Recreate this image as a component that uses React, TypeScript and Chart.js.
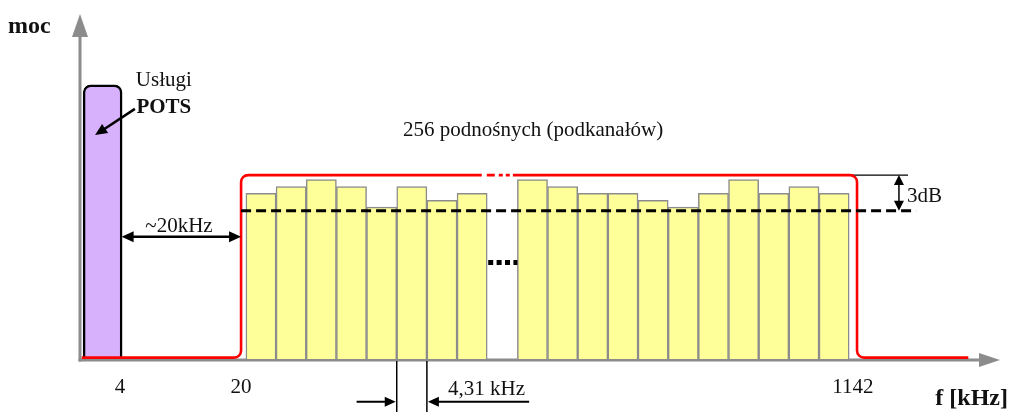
import React, { useEffect, useRef } from "react";
import { Chart, registerables } from "chart.js";

Chart.register(...registerables);

// ---- data (x in subcarrier-slot units, y in relative power units) ----
const subcarrierSlots = [0, 1, 2, 3, 4, 5, 6, 7, 9, 10, 11, 12, 13, 14, 15, 16, 17, 18, 19];
const subcarrierPower = [48, 50, 52, 50, 44, 50, 46, 48, 52, 50, 48, 48, 46, 44, 48, 52, 48, 50, 48];
const potsSlot = [-5.25];
const potsPower = [79.5];
const maskX = [-5.94, -0.66, -0.66, 19.76, 19.76, 23.45];
const maskY = [0.4, 0.4, 53.3, 53.3, 0.4, 0.4];
const maskBreak = [7.32, 8.35];
const refLevelX = [-0.66, 21.72];
const refLevel = 43;
const missingSlot = [7.5, 8.5];
const missingLevel = 28;
const tickSlots = [-4.67, -0.66, 19.62];
const tickLabels = ["4", "20", "1142"];
const guardBandX = [-4.62, -0.66];
const guardBandLevel = 35.4;
const spacingSlots = [4.5, 5.5];
const spacingArrowFrom = [3.17, 8.89];
const threeDbX = 21.15;
const threeDbLineX = [19.6, 21.45];

const SERIF = "'Liberation Serif', 'Times New Roman', serif";

function arrowHead(ctx: CanvasRenderingContext2D, x: number, y: number, angle: number, len: number, half: number) {
  ctx.save();
  ctx.translate(x, y);
  ctx.rotate(angle);
  ctx.beginPath();
  ctx.moveTo(0, 0);
  ctx.lineTo(-len, -half);
  ctx.lineTo(-len, half);
  ctx.closePath();
  ctx.fill();
  ctx.restore();
}

const diagramPlugin = {
  id: "diagram",
  beforeDatasetsDraw(chart: any) {
    const { ctx, chartArea: a } = chart;
    ctx.save();
    ctx.strokeStyle = "#8c8c8c";
    ctx.fillStyle = "#8c8c8c";
    ctx.lineWidth = 3;
    const x0 = a.left;
    const y0 = a.bottom + 1;
    ctx.beginPath();
    ctx.moveTo(x0, y0 + 1.5);
    ctx.lineTo(x0, a.top + 20);
    ctx.stroke();
    ctx.beginPath();
    ctx.moveTo(a.left, a.top);
    ctx.lineTo(a.left - 8, a.top + 23);
    ctx.lineTo(a.left + 8, a.top + 23);
    ctx.closePath();
    ctx.fill();
    ctx.beginPath();
    ctx.moveTo(x0 - 1.5, y0);
    ctx.lineTo(a.right - 18, y0);
    ctx.stroke();
    ctx.beginPath();
    ctx.moveTo(a.right, y0);
    ctx.lineTo(a.right - 21, y0 - 7);
    ctx.lineTo(a.right - 21, y0 + 7);
    ctx.closePath();
    ctx.fill();
    ctx.restore();
  },
  afterDatasetsDraw(chart: any) {
    const { ctx } = chart;
    const xs = chart.scales.x;
    const ys = chart.scales.y;
    const X = (v: number) => xs.getPixelForValue(v);
    const Y = (v: number) => ys.getPixelForValue(v);
    ctx.save();

    // 3dB thin line
    ctx.strokeStyle = "#000";
    ctx.lineWidth = 1.2;
    ctx.beginPath();
    ctx.moveTo(X(threeDbLineX[0]), Y(maskY[2]));
    ctx.lineTo(X(threeDbLineX[1]), Y(maskY[2]));
    ctx.stroke();

    // red mask
    ctx.strokeStyle = "#ff0000";
    ctx.lineWidth = 2.6;
    ctx.lineJoin = "round";
    const px = maskX.map(X);
    const py = maskY.map(Y);
    ctx.beginPath();
    ctx.moveTo(px[0], py[0]);
    for (let i = 1; i < px.length - 1; i++) ctx.arcTo(px[i], py[i], px[i + 1], py[i + 1], 7);
    ctx.lineTo(px[px.length - 1], py[py.length - 1]);
    ctx.stroke();
    // break in the mask top
    const b0 = X(maskBreak[0]);
    const b1 = X(maskBreak[1]);
    ctx.fillStyle = "#ffffff";
    ctx.fillRect(b0, py[2] - 3, b1 - b0, 6);
    ctx.setLineDash([8, 4, 4, 3, 4, 10]);
    ctx.beginPath();
    ctx.moveTo(b0 + 5, py[2]);
    ctx.lineTo(b1 - 3, py[2]);
    ctx.stroke();
    ctx.setLineDash([]);

    // reference (−3 dB) dashed line
    ctx.strokeStyle = "#000";
    ctx.lineWidth = 3;
    ctx.setLineDash([10, 5]);
    ctx.beginPath();
    ctx.moveTo(X(refLevelX[0]), Y(refLevel));
    ctx.lineTo(X(refLevelX[1]), Y(refLevel));
    ctx.stroke();
    // dotted line for omitted subcarriers
    ctx.lineWidth = 5;
    ctx.setLineDash([5, 3.4]);
    ctx.beginPath();
    ctx.moveTo(X(missingSlot[0]) + 1, Y(missingLevel));
    ctx.lineTo(X(missingSlot[1]), Y(missingLevel));
    ctx.stroke();
    ctx.setLineDash([]);

    // 3dB double arrow
    ctx.fillStyle = "#000";
    ctx.lineWidth = 1.5;
    const tx = X(threeDbX);
    ctx.beginPath();
    ctx.moveTo(tx, Y(maskY[2]) + 6);
    ctx.lineTo(tx, Y(refLevel) - 6);
    ctx.stroke();
    arrowHead(ctx, tx, Y(maskY[2]), -Math.PI / 2, 10, 5);
    arrowHead(ctx, tx, Y(refLevel), Math.PI / 2, 10, 5);

    // ~20kHz double arrow
    const gy = Y(guardBandLevel);
    ctx.lineWidth = 2.5;
    ctx.beginPath();
    ctx.moveTo(X(guardBandX[0]) + 6, gy);
    ctx.lineTo(X(guardBandX[1]) - 6, gy);
    ctx.stroke();
    arrowHead(ctx, X(guardBandX[0]), gy, Math.PI, 12, 5.5);
    arrowHead(ctx, X(guardBandX[1]), gy, 0, 12, 5.5);

    // POTS pointer arrow
    const ax0 = X(-4.18), ay0 = Y(72.5), ax1 = X(-5.5), ay1 = Y(64.9);
    const ang = Math.atan2(ay1 - ay0, ax1 - ax0);
    ctx.lineWidth = 2.5;
    ctx.beginPath();
    ctx.moveTo(ax0, ay0);
    ctx.lineTo(ax1 - 8 * Math.cos(ang), ay1 - 8 * Math.sin(ang));
    ctx.stroke();
    arrowHead(ctx, ax1, ay1, ang, 12, 5.5);

    // subcarrier spacing marks
    ctx.lineWidth = 1.5;
    const bottomY = Y(-15.6);
    spacingSlots.forEach((s) => {
      ctx.beginPath();
      ctx.moveTo(X(s), Y(0) + 2);
      ctx.lineTo(X(s), bottomY);
      ctx.stroke();
    });
    const sy = Y(-12.4);
    ctx.lineWidth = 2;
    ctx.beginPath();
    ctx.moveTo(X(spacingArrowFrom[0]), sy);
    ctx.lineTo(X(spacingSlots[0]) - 8, sy);
    ctx.moveTo(X(spacingArrowFrom[1]), sy);
    ctx.lineTo(X(spacingSlots[1]) + 8, sy);
    ctx.stroke();
    arrowHead(ctx, X(spacingSlots[0]) - 1, sy, 0, 11, 5);
    arrowHead(ctx, X(spacingSlots[1]) + 1, sy, Math.PI, 11, 5);

    // texts
    ctx.fillStyle = "#111";
    ctx.textBaseline = "alphabetic";
    ctx.font = `21px ${SERIF}`;
    ctx.textAlign = "center";
    tickSlots.forEach((s, i) => ctx.fillText(tickLabels[i], X(s), Y(-9.9)));
    ctx.fillText("Usługi", X(-3.22), Y(79.1));
    ctx.fillText("~20kHz", X(-2.72), Y(36.8));
    ctx.textAlign = "left";
    ctx.fillText("256 podnośnych (podkanałów)", X(4.71), Y(64.6));
    ctx.fillText("3dB", X(21.42), Y(45.5));
    ctx.fillText("4,31 kHz", X(6.2), Y(-10.4));
    ctx.font = `bold 21px ${SERIF}`;
    ctx.textAlign = "center";
    ctx.fillText("POTS", X(-3.22), Y(71.3));
    ctx.font = `bold 24px ${SERIF}`;
    ctx.textAlign = "left";
    ctx.fillText("moc", 8, 33);
    ctx.textAlign = "right";
    ctx.fillText("f [kHz]", chart.width - 2, 405);
    ctx.restore();
  },
};

export default function App() {
  const ref = useRef<HTMLCanvasElement | null>(null);
  useEffect(() => {
    if (!ref.current) return;
    const chart = new Chart(ref.current, {
      type: "bar",
      data: {
        datasets: [
          {
            label: "POTS",
            data: potsSlot.map((x, i) => ({ x, y: potsPower[i] })),
            backgroundColor: "#d8b1fd",
            borderColor: "#000000",
            borderWidth: 2.5,
            borderSkipped: "bottom",
            borderRadius: { topLeft: 8, topRight: 8, bottomLeft: 0, bottomRight: 0 },
            barThickness: 39,
            grouped: false,
          } as any,
          {
            label: "podnośne",
            data: subcarrierSlots.map((x, i) => ({ x, y: subcarrierPower[i] })),
            backgroundColor: "#ffff99",
            borderColor: "#8c8c8c",
            borderWidth: 1.5,
            borderSkipped: "bottom",
            barPercentage: 1,
            categoryPercentage: 1,
            grouped: false,
          } as any,
        ],
      },
      options: {
        responsive: false,
        animation: false,
        devicePixelRatio: 1,
        layout: { padding: { left: 80, right: 10, top: 14, bottom: 53 } },
        plugins: { legend: { display: false }, tooltip: { enabled: false } },
        scales: {
          x: { type: "linear", display: false, min: -6, max: 24.5, offset: false },
          y: { type: "linear", display: false, min: 0, max: 100 },
        },
      },
      plugins: [diagramPlugin],
    });
    return () => chart.destroy();
  }, []);
  return (
    <div style={{ position: "absolute", left: 0, top: 0, width: 1010, height: 412, background: "#fff" }}>
      <canvas ref={ref} width={1010} height={412} style={{ display: "block" }} />
    </div>
  );
}
